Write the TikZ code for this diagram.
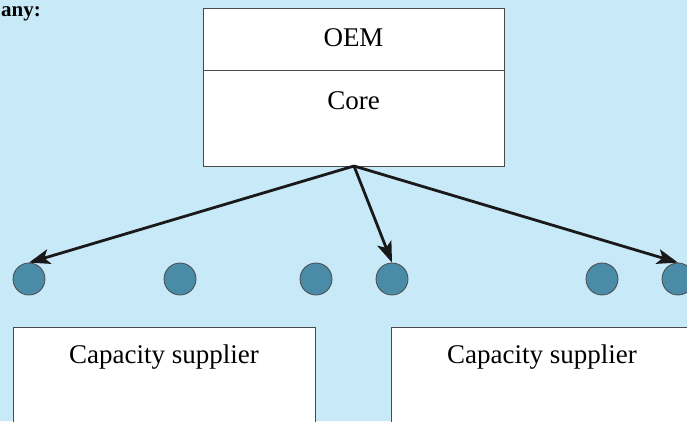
\documentclass[tikz,border=0pt]{standalone}
\usepackage{fontspec}
\setmainfont{Liberation Serif}
\usetikzlibrary{arrows.meta}
\definecolor{skyback}{HTML}{C8E9F8}
\definecolor{dotfill}{HTML}{4A8BA8}
\definecolor{edgegray}{HTML}{4A4A4A}
\begin{document}
\begin{tikzpicture}[x=1pt,y=-1pt,
  panel/.style={draw=edgegray,line width=1pt,fill=white},
  dot/.style={circle,draw=edgegray,line width=0.8pt,fill=dotfill,minimum size=32pt,inner sep=0pt},
  label/.style={font=\fontsize{27}{31}\selectfont,inner sep=0pt},
  link/.style={line width=2.8pt,draw=black!90,-{Stealth[length=21pt,width=15pt,inset=5pt]}}]
  % canvas
  \fill[skyback] (0,0) rectangle (687,421);
  \useasboundingbox (0,0) rectangle (687,421);
  \begin{scope}
    \clip (0,0) rectangle (687,421);
    % heading fragment
    \node[anchor=base west,inner sep=0pt,font=\fontsize{21}{25}\selectfont\bfseries] (head) at (1,16) {any:};
    % OEM box with core section
    \draw[panel] (203,8) rectangle (504,166);
    \draw[edgegray,line width=1pt] (203,70) -- (504,70);
    \coordinate (oem) at (354,166);
    \node[label] (oemtxt) at (353.5,38) {OEM};
    \node[label] (coretxt) at (353.5,101) {Core};
    % supplier boxes
    \draw[panel] (13,327) rectangle (315,430);
    \draw[panel] (391,327) rectangle (693,430);
    \node[label] (sup1) at (164,357) {Capacity supplier};
    \node[label] (sup2) at (542,357) {Capacity supplier};
    % row of firms
    \node[dot] (c1) at (29,279) {};
    \node[dot] (c2) at (180,279) {};
    \node[dot] (c3) at (316,279) {};
    \node[dot] (c4) at (392,279) {};
    \node[dot] (c5) at (602,279) {};
    \node[dot] (c6) at (678,279) {};
    % links from the core
    \draw[link] (oem) -- (c1.north);
    \draw[link] (oem) -- (c4.north);
    \draw[link] (oem) -- (c6.north);
  \end{scope}
\end{tikzpicture}
\end{document}
